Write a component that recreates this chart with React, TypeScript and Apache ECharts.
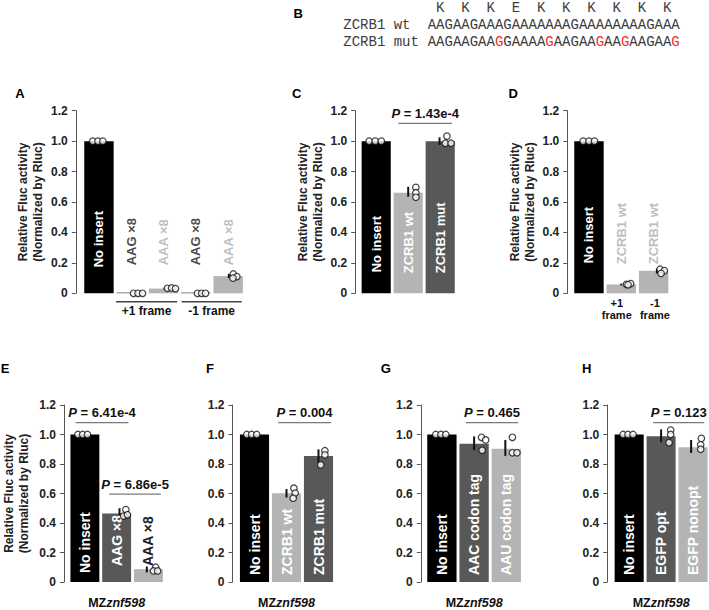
import React, { useEffect, useRef } from 'react';
import * as echarts from 'echarts';

const FONT = '"Liberation Sans", Arial, Helvetica, sans-serif';
const MONO = '"Liberation Mono", "Courier New", monospace';
const BLACK = '#000000';
const DARK = '#585858';
const LIGHT = '#b4b4b4';

// ---- Panel B: sequences ----
const aminoAcids = ['K', 'K', 'K', 'E', 'K', 'K', 'K', 'K', 'K', 'K'];
const wtSeq = 'AAGAAGAAAGAAAAAAAGAAAAAAAAGAAA';
const mutSeq = 'AAGAAGAAGGAAAAGAAGAAGAAGAAGAAG';

// ---- Panel A ----
const catsA = ['No insert', 'AAG ×8', 'AAA ×8', 'AAG ×8', 'AAA ×8'];
const valsA = [1.0, 0.005, 0.031, 0.005, 0.113];
// [category, jitter, value]
const dotsA = [[0, -0.19, 1], [0, -0.03, 1], [0, 0.12, 1], [1, 0.07, 0], [1, 0.21, 0], [1, 0.35, 0],
  [2, 0.12, 0.033], [2, 0.25, 0.035], [2, 0.37, 0.031], [3, 0.05, 0], [3, 0.18, 0], [3, 0.3, 0],
  [4, 0.16, 0.127], [4, 0.27, 0.11], [4, 0.15, 0.1]];
// [category, shift, low, high]
const errA = [[2, 0.03, 0.026, 0.037], [4, 0.02, 0.1, 0.128]];
const framesA = ['+1 frame', '-1 frame'];

// ---- Panel C ----
const catsC = ['No insert', 'ZCRB1 wt', 'ZCRB1 mut'];
const valsC = [1.0, 0.66, 1.0];
const dotsC = [[0, -0.22, 1], [0, -0.03, 1], [0, 0.16, 1], [1, 0.24, 0.696], [1, 0.24, 0.661], [1, 0.24, 0.631],
  [2, 0.21, 1.033], [2, 0.16, 0.986], [2, 0.34, 0.986]];
const errC = [[1, 0, 0.635, 0.7], [2, -0.02, 0.975, 1.025]];
const pC = ['1.43e-4'];

// ---- Panel D ----
const catsD = ['No insert', 'ZCRB1 wt', 'ZCRB1 wt'];
const valsD = [1.0, 0.058, 0.148];
const dotsD = [[0, -0.18, 1], [0, 0, 1], [0, 0.17, 1], [1, 0.16, 0.059], [1, 0.29, 0.064], [1, 0.21, 0.056],
  [2, 0.2, 0.158], [2, 0.33, 0.149], [2, 0.23, 0.131]];
const errD = [[1, 0, 0.052, 0.064], [2, 0.1, 0.13, 0.162]];
const framesD = ['+1\nframe', '-1\nframe'];

// ---- Panel E ----
const catsE = ['No insert', 'AAG ×8', 'AAA ×8'];
const valsE = [1.0, 0.465, 0.087];
const dotsE = [[0, -0.22, 1], [0, -0.07, 1], [0, 0.08, 1], [1, 0.29, 0.491], [1, 0.22, 0.447], [1, 0.34, 0.456],
  [2, 0.23, 0.1], [2, 0.16, 0.075], [2, 0.29, 0.075]];
const errE = [[1, 0.09, 0.45, 0.5], [2, -0.05, 0.065, 0.105]];
const pE = ['6.41e-4', '6.86e-5'];

// ---- Panel F ----
const catsF = ['No insert', 'ZCRB1 wt', 'ZCRB1 mut'];
const valsF = [1.0, 0.601, 0.855];
const dotsF = [[0, -0.24, 1], [0, -0.09, 1], [0, 0.07, 1], [1, 0.23, 0.636], [1, 0.27, 0.603], [1, 0.21, 0.568],
  [2, 0.2, 0.89], [2, 0.2, 0.862], [2, 0.07, 0.794]];
const errF = [[1, 0, 0.573, 0.63], [2, 0, 0.805, 0.899]];
const pF = ['0.004'];

// ---- Panel G ----
const catsG = ['No insert', 'AAC codon tag', 'AAU codon tag'];
const valsG = [1.0, 0.937, 0.904];
const dotsG = [[0, -0.19, 1], [0, -0.03, 1], [0, 0.12, 1], [1, 0.23, 0.981], [1, 0.36, 0.963], [1, 0.25, 0.893],
  [2, 0.19, 0.981], [2, 0.19, 0.876], [2, 0.33, 0.876]];
const errG = [[1, 0, 0.893, 0.987], [2, -0.03, 0.855, 0.963]];
const pG = ['0.465'];

// ---- Panel H ----
const catsH = ['No insert', 'EGFP opt', 'EGFP nonopt'];
const valsH = [1.0, 0.988, 0.913];
const dotsH = [[0, -0.19, 1], [0, -0.04, 1], [0, 0.12, 1], [1, 0.3, 1.03], [1, 0.3, 1.0], [1, 0.25, 0.945],
  [2, 0.26, 0.974], [2, 0.24, 0.93], [2, 0.24, 0.9]];
const errH = [[1, 0, 0.948, 1.035], [2, -0.06, 0.875, 0.963]];
const pH = ['0.123'];

const yTicks = { min: 0, max: 1.2, interval: 0.2 };

type Panel = {
  letter: string; lx: number; ly: number;
  left: number; top: number; width: number; height: number; offset: number;
  cats: string[]; vals: number[]; colors: string[]; labelColors: string[];
  labelDist: number[]; labelSize: number;
  dots: number[][]; errs: number[][];
  brackets: number[][]; pTexts: string[];
  frames?: { ranges: number[][]; texts: string[]; line: boolean };
  yName: boolean; nameGap: number; xName: boolean;
};

const TOP1 = 110.7, H1 = 182.6, TOP2 = 405, H2 = 182.3;

const panels: Panel[] = [
  {
    letter: 'A', lx: 20, ly: 93, left: 82.8, top: TOP1, width: 161.5, height: H1, offset: 7,
    cats: catsA, vals: valsA, colors: [BLACK, DARK, LIGHT, DARK, LIGHT],
    labelColors: ['#ffffff', '#4d4d4d', '#c0c0c0', '#4d4d4d', '#c0c0c0'],
    labelDist: [26, 28, 28, 28, 28], labelSize: 13,
    dots: dotsA, errs: errA, brackets: [], pTexts: [],
    frames: { ranges: [[1 - 0.47, 2 + 0.42], [3 - 0.44, 4 + 0.42]], texts: framesA, line: true },
    yName: true, nameGap: 30, xName: false,
  },
  {
    letter: 'C', lx: 296.7, ly: 93, left: 360.2, top: TOP1, width: 96, height: H1, offset: 5,
    cats: catsC, vals: valsC, colors: [BLACK, LIGHT, DARK], labelColors: ['#fff', '#fff', '#fff'],
    labelDist: [21, 20, 20], labelSize: 13,
    dots: dotsC, errs: errC, brackets: [[1 - 0.31, 2 + 0.37, 1.117]], pTexts: pC,
    yName: true, nameGap: 30, xName: false,
  },
  {
    letter: 'D', lx: 513.3, ly: 93, left: 572.8, top: TOP1, width: 97, height: H1, offset: 5.5,
    cats: catsD, vals: valsD, colors: [BLACK, LIGHT, LIGHT], labelColors: ['#fff', '#c0c0c0', '#c0c0c0'],
    labelDist: [30, 29, 29], labelSize: 13,
    dots: dotsD, errs: errD, brackets: [], pTexts: [],
    frames: { ranges: [[0.86, 0.86], [2.04, 2.04]], texts: framesD, line: false },
    yName: true, nameGap: 30, xName: false,
  },
  {
    letter: 'E', lx: 5, ly: 368, left: 66.8, top: TOP2, width: 97.5, height: H2, offset: 5,
    cats: catsE, vals: valsE, colors: [BLACK, DARK, LIGHT], labelColors: ['#fff', '#fff', '#222'],
    labelDist: [9, 16, 16], labelSize: 14,
    dots: dotsE, errs: errE, brackets: [[-0.29, 1.37, 1.08], [0.77, 2.39, 0.596]], pTexts: pE,
    yName: true, nameGap: 33, xName: true,
  },
  {
    letter: 'F', lx: 210, ly: 368, left: 238.5, top: TOP2, width: 96, height: H2, offset: 6,
    cats: catsF, vals: valsF, colors: [BLACK, LIGHT, DARK], labelColors: ['#fff', '#fff', '#fff'],
    labelDist: [7, 7, 7], labelSize: 14,
    dots: dotsF, errs: errF, brackets: [[1 - 0.26, 2 + 0.39, 1.08]], pTexts: pF,
    yName: false, nameGap: 30, xName: true,
  },
  {
    letter: 'G', lx: 385.7, ly: 368, left: 425.8, top: TOP2, width: 96.6, height: H2, offset: 5,
    cats: catsG, vals: valsG, colors: [BLACK, DARK, LIGHT], labelColors: ['#fff', '#fff', '#fff'],
    labelDist: [7, 7, 7], labelSize: 14,
    dots: dotsG, errs: errG, brackets: [[1 - 0.26, 2 + 0.37, 1.08]], pTexts: pG,
    yName: false, nameGap: 30, xName: true,
  },
  {
    letter: 'H', lx: 586.7, ly: 368, left: 613.2, top: TOP2, width: 95.8, height: H2, offset: 6,
    cats: catsH, vals: valsH, colors: [BLACK, DARK, LIGHT], labelColors: ['#fff', '#fff', '#fff'],
    labelDist: [7, 7, 7], labelSize: 14,
    dots: dotsH, errs: errH, brackets: [[1 - 0.25, 2 + 0.35, 1.08]], pTexts: pH,
    yName: false, nameGap: 30, xName: true,
  },
];

function buildOption() {
  const grid: any[] = [];
  const xAxis: any[] = [];
  const yAxis: any[] = [];
  const series: any[] = [];
  const graphic: any[] = [];

  panels.forEach((p, k) => {
    grid.push({ left: p.left, top: p.top, width: p.width, height: p.height });
    xAxis.push({
      type: 'category', gridIndex: k, data: p.cats.map((_, i) => String(i)),
      show: p.xName,
      axisLine: { show: false, onZero: false }, axisTick: { show: false }, axisLabel: { show: false }, splitLine: { show: false },
      name: p.xName ? '{b|MZ}{i|znf598}' : '',
      nameLocation: 'middle', nameGap: 14,
      nameTextStyle: {
        rich: {
          b: { fontWeight: 'bold', fontSize: 12.5, fontFamily: FONT, color: '#111' },
          i: { fontWeight: 'bold', fontStyle: 'italic', fontSize: 12.5, fontFamily: FONT, color: '#111' },
        },
      },
    });
    xAxis.push({
      type: 'value', gridIndex: k, min: -0.5, max: p.cats.length - 0.5, show: false,
      axisLine: { show: false, onZero: false }, splitLine: { show: false },
    });
    yAxis.push({
      type: 'value', gridIndex: k, min: yTicks.min, max: yTicks.max, interval: yTicks.interval,
      offset: p.offset,
      axisLine: { show: true, onZero: false, lineStyle: { color: '#555', width: 1 } },
      axisTick: { show: true, length: 4, lineStyle: { color: '#555', width: 1 } },
      splitLine: { show: false },
      axisLabel: {
        margin: 8, fontWeight: 'bold', fontSize: 12, fontFamily: FONT, color: '#222',
        formatter: (v: number) => (Math.abs(v) < 1e-9 ? '0' : v.toFixed(1)),
      },
      name: p.yName ? 'Relative Fluc activity\n(Normalized by Rluc)' : '',
      nameLocation: 'middle', nameGap: p.nameGap,
      nameTextStyle: { fontWeight: 'bold', fontSize: 12, fontFamily: FONT, color: '#222', lineHeight: 15 },
    });

    series.push({
      type: 'bar', xAxisIndex: 2 * k, yAxisIndex: k, barCategoryGap: '9%', silent: true,
      data: p.vals.map((v, i) => ({
        value: v,
        itemStyle: { color: p.colors[i] },
        label: { color: p.labelColors[i], distance: p.labelDist[i] },
      })),
      label: {
        show: true, position: 'insideBottom', rotate: 90, align: 'left', verticalAlign: 'middle',
        fontSize: p.labelSize, fontWeight: 'bold', fontFamily: FONT,
        formatter: (prm: any) => p.cats[prm.dataIndex],
      },
    });

    series.push({
      type: 'custom', xAxisIndex: 2 * k + 1, yAxisIndex: k, clip: false, z: 4, silent: true,
      data: p.errs.map((e) => [e[0] + e[1], e[2], e[3]]),
      encode: { x: 0, y: [1, 2] },
      renderItem: (params: any, api: any) => {
        const a = api.coord([api.value(0), api.value(1)]);
        const b = api.coord([api.value(0), api.value(2)]);
        return {
          type: 'line', shape: { x1: a[0], y1: a[1], x2: b[0], y2: b[1] },
          style: { stroke: '#111', lineWidth: 2 },
        };
      },
    });

    series.push({
      type: 'scatter', xAxisIndex: 2 * k + 1, yAxisIndex: k, clip: false, z: 5, silent: true,
      symbol: 'circle', symbolSize: 6.5,
      itemStyle: { color: '#ffffff', borderColor: '#111', borderWidth: 1.2 },
      data: p.dots.map((d) => [d[0] + d[1], d[2]]),
    });

    if (p.brackets.length) {
      series.push({
        type: 'custom', xAxisIndex: 2 * k + 1, yAxisIndex: k, clip: false, z: 6, silent: true,
        data: p.brackets,
        encode: { x: [0, 1], y: 2 },
        renderItem: (params: any, api: any) => {
          const a = api.coord([api.value(0), api.value(2)]);
          const b = api.coord([api.value(1), api.value(2)]);
          return {
            type: 'group',
            children: [
              { type: 'line', shape: { x1: a[0], y1: a[1], x2: b[0], y2: b[1] }, style: { stroke: '#7a7a7a', lineWidth: 1.2 } },
              {
                type: 'text', x: (a[0] + b[0]) / 2, y: a[1] - 10,
                style: {
                  text: `{i|P}{b| = ${p.pTexts[params.dataIndex]}}`,
                  textAlign: 'center', textVerticalAlign: 'middle',
                  rich: {
                    i: { fontStyle: 'italic', fontWeight: 'bold', fontSize: 13, fontFamily: FONT, fill: '#111' },
                    b: { fontWeight: 'bold', fontSize: 13, fontFamily: FONT, fill: '#111' },
                  },
                },
              },
            ],
          };
        },
      });
    }

    if (p.frames) {
      const fr = p.frames;
      series.push({
        type: 'custom', xAxisIndex: 2 * k + 1, yAxisIndex: k, clip: false, z: 6, silent: true,
        data: fr.ranges,
        encode: { x: [0, 1] },
        renderItem: (params: any, api: any) => {
          const a = api.coord([api.value(0), 0]);
          const b = api.coord([api.value(1), 0]);
          const children: any[] = [];
          if (fr.line) {
            children.push({ type: 'line', shape: { x1: a[0], y1: a[1] + 8.5, x2: b[0], y2: b[1] + 8.5 }, style: { stroke: '#444', lineWidth: 1.5 } });
            children.push({
              type: 'text', x: (a[0] + b[0]) / 2, y: a[1] + 18,
              style: { text: fr.texts[params.dataIndex], textAlign: 'center', textVerticalAlign: 'middle', fontSize: 12, fontWeight: 'bold', fontFamily: FONT, fill: '#111' },
            });
          } else {
            children.push({
              type: 'text', x: (a[0] + b[0]) / 2, y: a[1] + 16,
              style: { text: fr.texts[params.dataIndex], textAlign: 'center', textVerticalAlign: 'middle', fontSize: 11, fontWeight: 'bold', fontFamily: FONT, fill: '#111', lineHeight: 12 },
            });
          }
          return { type: 'group', children };
        },
      });
    }

    graphic.push({
      type: 'text', x: p.lx, y: p.ly,
      style: { text: p.letter, textAlign: 'center', textVerticalAlign: 'middle', fontSize: 13, fontWeight: 'bold', fontFamily: FONT, fill: '#000' },
    });
  });

  // Panel B
  const seqX = 427.7;
  const cw = 8.4;
  const seqColor = '#3c3c3c';
  graphic.push({
    type: 'text', x: 298.3, y: 13,
    style: { text: 'B', textAlign: 'center', textVerticalAlign: 'middle', fontSize: 13, fontWeight: 'bold', fontFamily: FONT, fill: '#000' },
  });
  aminoAcids.forEach((aa, i) => {
    graphic.push({
      type: 'text', x: seqX + (3 * i + 1.5) * cw, y: 7.5,
      style: { text: aa, textAlign: 'center', textVerticalAlign: 'middle', fontSize: 14, fontFamily: MONO, fill: seqColor },
    });
  });
  const rows = [
    { name: 'ZCRB1 wt', seq: wtSeq, y: 24.5 },
    { name: 'ZCRB1 mut', seq: mutSeq, y: 41.5 },
  ];
  rows.forEach((r) => {
    graphic.push({
      type: 'text', x: 343.3, y: r.y,
      style: { text: r.name, textAlign: 'left', textVerticalAlign: 'middle', fontSize: 14, fontFamily: MONO, fill: seqColor },
    });
    let txt = '';
    for (let i = 0; i < r.seq.length; i++) {
      const c = r.seq[i];
      txt += c !== wtSeq[i] ? `{r|${c}}` : c;
    }
    graphic.push({
      type: 'text', x: seqX, y: r.y,
      style: {
        text: txt, textAlign: 'left', textVerticalAlign: 'middle', fontSize: 14, fontFamily: MONO, fill: seqColor,
        rich: { r: { fill: '#ff2a2a', fontSize: 14, fontFamily: MONO } },
      },
    });
  });

  return { animation: false, backgroundColor: '#ffffff', grid, xAxis, yAxis, series, graphic };
}

export default function App() {
  const ref = useRef<HTMLDivElement>(null);
  useEffect(() => {
    document.body.style.margin = '0';
    if (!ref.current) return;
    const chart = echarts.init(ref.current, null, { renderer: 'svg' });
    chart.setOption(buildOption() as any);
    return () => chart.dispose();
  }, []);
  return <div ref={ref} style={{ width: 709, height: 610 }} />;
}
